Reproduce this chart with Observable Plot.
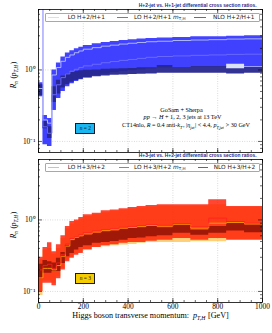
<!DOCTYPE html>
<html><head><meta charset="utf-8">
<script src="https://cdn.jsdelivr.net/npm/d3@7"></script>
<script src="https://cdn.jsdelivr.net/npm/@observablehq/plot@0.6"></script>
<style>
html,body{margin:0;padding:0;background:#fff;overflow:hidden;}
#wrap{position:relative;width:272px;height:333px;}
#wrap svg{position:absolute;left:0;}
.leg{position:absolute;left:45px;width:215px;height:9px;border:0.7px solid #a8a8a8;border-radius:1px;background:#fff;box-sizing:border-box;}
.sw{position:absolute;height:1.6px;top:3px;}
.lt{position:absolute;font:5.8px "DejaVu Sans",sans-serif;color:#222;line-height:7.6px;top:0;white-space:nowrap;}
.lt sub{font-size:70%;vertical-align:-1px;line-height:0;}
.nbox{position:absolute;left:75.3px;width:20px;height:11px;border:0.9px solid #1a1a2a;box-sizing:border-box;font:5.4px "Liberation Serif",serif;text-align:center;line-height:9.2px;color:#111;}
</style></head>
<body><div id="wrap"></div>
<script>
// ---------- data ----------
const binEdges = [0,20,40,60,80,100,120,140,160,180,200,240,280,320,360,400,440,480,530,600,680,760,840,920,1000];
const xMajorTicks = [0,200,400,600,800,1000];
const xMinorTicks = [0,50,100,150,200,250,300,350,400,450,500,550,600,650,700,750,800,850,900,950,1000];
const yMajorTicks = [0.1, 1];
const yMinorTicks = [0.07,0.08,0.09,0.2,0.3,0.4,0.5,0.6,0.7,0.8,0.9,2,3,4,5,6,7];
const yTickLabels = ["10\u207B\u00B9", "10\u2070"];

// H+2 / H+1
const r21_loLow      = [0.42,0.09,0.085,0.28,0.41,0.51,0.59,0.65,0.70,0.74,0.79,0.84,0.88,0.92,0.95,0.98,1.01,1.04,1.07,1.09,1.11,1.11,1.04,1.11];
const r21_loHigh     = [0.64,0.22,0.20,0.90,1.15,1.40,1.60,1.72,1.85,1.95,2.05,2.17,2.27,2.35,2.43,2.50,2.55,2.60,2.65,2.70,2.75,2.78,2.80,2.85];
const r21_mtLow      = [0.42,0.09,0.085,0.27,0.40,0.50,0.58,0.64,0.69,0.73,0.78,0.83,0.87,0.91,0.94,0.97,1.00,1.03,1.06,1.08,1.10,1.10,1.20,1.10];
const r21_mtHigh     = [0.66,0.23,0.21,1.00,1.25,1.52,1.72,1.85,1.98,2.08,2.20,2.32,2.42,2.50,2.58,2.64,2.70,2.75,2.80,2.85,2.90,2.92,2.95,3.00];
const r21_nloLow     = [0.44,0.15,0.11,0.35,0.46,0.56,0.62,0.67,0.71,0.74,0.77,0.80,0.82,0.84,0.85,0.86,0.87,0.88,0.90,0.90,0.90,0.90,0.88,0.90];
const r21_nloHigh    = [0.62,0.19,0.16,0.58,0.72,0.82,0.88,0.92,0.95,0.97,0.99,1.00,1.02,1.03,1.04,1.05,1.07,1.07,1.15,1.08,1.12,1.12,1.04,1.08];
const r21_loCentral  = [0.55,0.20,0.18,0.85,1.08,1.32,1.50,1.62,1.74,1.84,1.95,2.05,2.15,2.22,2.30,2.36,2.42,2.48,2.52,2.58,2.62,2.65,2.70,2.72];
const r21_mtCentral  = [50,0.16,0.13,0.45,0.62,0.78,0.88,0.96,1.02,1.08,1.14,1.20,1.26,1.31,1.36,1.40,1.45,1.50,1.54,1.57,1.60,1.62,1.65,1.66];

// H+3 / H+2
const r32_loLow      = [0.088,0.14,0.14,0.13,0.16,0.21,0.27,0.30,0.33,0.35,0.385,0.415,0.42,0.435,0.445,0.455,0.47,0.485,0.485,0.485,0.495,0.495,0.53,0.53];
const r32_loHigh     = [0.28,0.38,0.40,0.33,0.40,0.55,0.75,0.88,0.95,1.02,1.12,1.18,1.26,1.32,1.37,1.42,1.47,1.52,1.56,1.55,1.56,1.63,1.50,1.50];
const r32_mtLow      = [0.10,0.13,0.13,0.12,0.15,0.20,0.26,0.29,0.32,0.34,0.38,0.41,0.435,0.45,0.47,0.485,0.485,0.505,0.52,0.55,0.52,0.55,0.52,0.52];
const r32_mtHigh     = [0.30,0.41,0.48,0.36,0.45,0.60,0.81,0.95,1.00,1.08,1.18,1.24,1.34,1.38,1.43,1.49,1.54,1.59,1.63,1.63,1.63,1.91,1.54,1.54];
const r32_nloLow     = [0.15,0.18,0.18,0.19,0.19,0.245,0.305,0.34,0.38,0.41,0.435,0.47,0.485,0.50,0.52,0.55,0.56,0.58,0.60,0.65,0.61,0.65,0.70,0.66];
const r32_nloHigh    = [0.24,0.27,0.26,0.25,0.29,0.35,0.44,0.52,0.55,0.58,0.615,0.65,0.685,0.70,0.74,0.76,0.78,0.81,0.78,0.85,0.72,0.81,0.93,0.85];
const r32_loCentral  = [0.155,0.21,0.21,0.20,0.23,0.31,0.43,0.53,0.57,0.60,0.64,0.68,0.71,0.73,0.77,0.79,0.81,0.84,0.82,0.87,0.77,0.90,0.92,0.88];
const r32_mtCentral  = [0.20,0.23,0.24,0.21,0.25,0.33,0.46,0.55,0.58,0.62,0.66,0.70,0.73,0.75,0.79,0.81,0.83,0.86,0.84,0.89,0.80,1.06,0.95,0.90];

// ---------- helpers ----------
function stepBand(lo, hi){
  const out = [];
  for (let i = 0; i < lo.length; i++) {
    out.push({x: binEdges[i], lo: lo[i], hi: hi[i]}, {x: binEdges[i+1], lo: lo[i], hi: hi[i]});
  }
  return out;
}
function stepLine(c){
  const out = [];
  for (let i = 0; i < c.length; i++) {
    out.push({x: binEdges[i], y: c[i]}, {x: binEdges[i+1], y: c[i]});
  }
  return out;
}

const W = 272, ML = 38, MR = 10;
const FW = W - ML - MR;
const serif = "'Liberation Serif', serif";

function panel({height, marginTop, marginBottom, bands, lines, title, extra, showX}){
  const FH = height - marginTop - marginBottom;
  const tick = {stroke: "#000", strokeWidth: 0.6};
  const marks = [
    Plot.ruleX([200,400,600,800], {stroke: "#b4b4b4", strokeWidth: 0.6, strokeDasharray: "0.8,1.6"}),
    Plot.ruleY(yMajorTicks, {stroke: "#b4b4b4", strokeWidth: 0.6, strokeDasharray: "0.8,1.6"}),
    ...bands.map(b => Plot.areaY(stepBand(b.lo, b.hi), {x: "x", y1: "lo", y2: "hi", fill: b.fill, fillOpacity: b.opacity, curve: "linear", clip: true})),
    ...lines.map(l => Plot.line(stepLine(l.c), {x: "x", y: "y", stroke: l.stroke, strokeWidth: l.width, curve: "linear", clip: true})),
    Plot.ruleX(xMinorTicks, {...tick, insetTop: FH - 2}),
    Plot.ruleX(xMinorTicks, {...tick, insetBottom: FH - 2}),
    Plot.ruleX(xMajorTicks, {...tick, insetTop: FH - 4}),
    Plot.ruleX(xMajorTicks, {...tick, insetBottom: FH - 4}),
    Plot.ruleY(yMinorTicks, {...tick, insetRight: FW - 2}),
    Plot.ruleY(yMinorTicks, {...tick, insetLeft: FW - 2}),
    Plot.ruleY(yMajorTicks, {...tick, insetRight: FW - 4}),
    Plot.ruleY(yMajorTicks, {...tick, insetLeft: FW - 4}),
    Plot.frame({stroke: "#000", strokeWidth: 0.8}),
    Plot.text([title], {text: d => d, frameAnchor: "top-right", textAnchor: "end", lineAnchor: "middle", dx: -6, dy: -3.6, fill: "#2a2a8e", fontWeight: "bold", fontSize: 4.9, fontFamily: "'Liberation Sans', sans-serif"}),
    Plot.text(["$R_{n}$ ($p_{T,H}$)"], {text: d => d, frameAnchor: "left", textAnchor: "middle", lineAnchor: "middle", rotate: -90, dx: -25, dy: -6, fontSize: 7.4, fontFamily: serif}),
    ...extra
  ];
  if (showX) {
    marks.push(Plot.text(["Higgs boson transverse momentum:  $p_{T,H}$ [GeV]"], {text: d => d, frameAnchor: "bottom", textAnchor: "middle", lineAnchor: "middle", dy: 13, fontSize: 8.1, fontFamily: serif}));
  }
  return Plot.plot({
    width: W, height, marginTop, marginBottom, marginLeft: ML, marginRight: MR,
    x: {domain: [0, 1000], label: null, axis: showX ? "bottom" : null, ticks: xMajorTicks, tickSize: 0, tickPadding: 1.5, tickFormat: d => String(d)},
    y: {type: "log", domain: [0.07, 7], label: null, axis: "left", ticks: yMajorTicks, tickSize: 0, tickPadding: 3, tickFormat: d => yTickLabels[yMajorTicks.indexOf(d)]},
    style: {background: "transparent", fontFamily: serif, fontSize: "7.4px", color: "#000", overflow: "visible"},
    marks
  });
}

const annot = {fontSize: 6.2, fontFamily: serif, frameAnchor: "top-left", textAnchor: "middle", lineAnchor: "middle", text: d => d};
const svgA = panel({
  height: 153, marginTop: 9, marginBottom: 1, showX: false,
  title: "H+2-jet vs. H+1-jet differential cross section ratios.",
  bands: [
    {lo: r21_loLow, hi: r21_loHigh, fill: "#b4c6f0", opacity: 0.5},
    {lo: r21_mtLow, hi: r21_mtHigh, fill: "#2424ff", opacity: 0.85},
    {lo: r21_nloLow, hi: r21_nloHigh, fill: "#27278f", opacity: 0.95}
  ],
  lines: [
    {c: r21_loCentral, stroke: "#c8d4f8", width: 0.8},
    {c: r21_mtCentral, stroke: "#6e6eff", width: 0.9}
  ],
  extra: [
    Plot.text(["GoSam + Sherpa"], {...annot, dx: 143, dy: 100.3}),
    Plot.text(["$pp$ \u2192 $H$ + 1, 2, 3 jets at 13 TeV"], {...annot, dx: 144, dy: 107.6}),
    Plot.text(["CT14nlo, $R$ = 0.4 anti-$k_{T}$, |$\u03B7_{jet}$| < 4.4, $p_{T,jet}$ > 30 GeV"], {...annot, fontSize: 6.1, dx: 147.5, dy: 115.7})
  ]
});
const svgB = panel({
  height: 180, marginTop: 6, marginBottom: 31, showX: true,
  title: "H+3-jet vs. H+2-jet differential cross section ratios.",
  bands: [
    {lo: r32_loLow, hi: r32_loHigh, fill: "#ffb020", opacity: 0.6},
    {lo: r32_mtLow, hi: r32_mtHigh, fill: "#ff1800", opacity: 0.8},
    {lo: r32_nloLow, hi: r32_nloHigh, fill: "#a01808", opacity: 1}
  ],
  lines: [
    {c: r32_loCentral, stroke: "#ffb000", width: 0.8},
    {c: r32_mtCentral, stroke: "#ff2020", width: 0.8}
  ],
  extra: []
});

const wrap = document.getElementById("wrap");
svgA.style.top = "0px";
svgB.style.top = "153px";
wrap.append(svgA, svgB);

// simple LaTeX-like markup: $...$ italic, _{...} subscript
function mathify(root){
  root.querySelectorAll("text").forEach(el => {
    const s = el.textContent;
    if (!/[$_]/.test(s)) return;
    const fs = parseFloat(getComputedStyle(el).fontSize) || 7;
    while (el.firstChild) el.removeChild(el.firstChild);
    let italic = false;
    for (const tok of s.split(/(\$|_\{[^}]*\})/)) {
      if (!tok) continue;
      if (tok === "$") { italic = !italic; continue; }
      const ts = document.createElementNS("http://www.w3.org/2000/svg", "tspan");
      if (italic) ts.setAttribute("font-style", "italic");
      const m = tok.match(/^_\{([^}]*)\}$/);
      if (m) {
        ts.setAttribute("dy", (0.28 * fs).toFixed(2));
        ts.setAttribute("font-size", (0.7 * fs).toFixed(2));
        ts.textContent = m[1];
        el.appendChild(ts);
        const back = document.createElementNS("http://www.w3.org/2000/svg", "tspan");
        back.setAttribute("dy", (-0.28 * fs).toFixed(2));
        back.textContent = "\u200A";
        el.appendChild(back);
      } else {
        ts.textContent = tok;
        el.appendChild(ts);
      }
    }
  });
}
mathify(wrap);

// legends and labels (HTML overlays)
function legend(topPx, items){
  const box = document.createElement("div");
  box.className = "leg";
  box.style.top = topPx + "px";
  for (const it of items) {
    const sw = document.createElement("div");
    sw.className = "sw";
    sw.style.left = it.sx + "px"; sw.style.width = it.sw + "px"; sw.style.background = it.color;
    const t = document.createElement("div");
    t.className = "lt";
    t.style.left = it.tx + "px";
    t.innerHTML = it.label;
    box.append(sw, t);
  }
  wrap.append(box);
}
legend(12.7, [
  {sx: 1.7, sw: 11.6, tx: 21.7, color: "#d6e0f5", label: "LO H+2/H+1"},
  {sx: 71, sw: 11, tx: 88, color: "#6c6cff", label: "LO H+2/H+1 <i>m</i><sub>T,H</sub>"},
  {sx: 148, sw: 12, tx: 167, color: "#6464b4", label: "NLO H+2/H+1"}
]);
legend(162.7, [
  {sx: 1.7, sw: 11.6, tx: 21.7, color: "#ffc040", label: "LO H+3/H+2"},
  {sx: 73, sw: 10, tx: 88, color: "#ff5555", label: "LO H+3/H+2 <i>m</i><sub>T,H</sub>"},
  {sx: 152, sw: 10, tx: 167.7, color: "#b84444", label: "NLO H+3/H+2"}
]);
function nbox(topPx, color, label){
  const b = document.createElement("div");
  b.className = "nbox";
  b.style.top = topPx + "px";
  b.style.background = color;
  b.innerHTML = label;
  wrap.append(b);
}
nbox(122.7, "#1ab6f0", "<i>n</i> = 2");
nbox(272.7, "#f5cc00", "<i>n</i> = 3");
</script>
</body></html>
